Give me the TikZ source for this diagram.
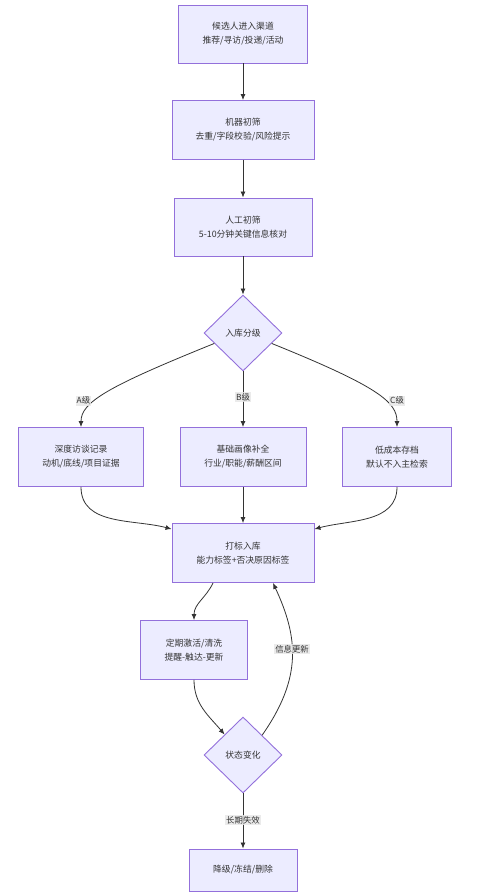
\documentclass[tikz,border=0pt]{standalone}
\usepackage{fontspec}
\setmainfont{Noto Sans CJK SC}
\usetikzlibrary{positioning}
\usetikzlibrary{arrows.meta}
\usetikzlibrary{shapes.geometric}
\definecolor{boxfill}{HTML}{ECECFF}
\definecolor{boxline}{HTML}{9370DB}
\definecolor{ink}{HTML}{333333}
\definecolor{lblbg}{HTML}{E8E8E8}

\begin{document}
\begin{tikzpicture}[x=1pt, y=-1pt,
    every node/.style={font=\fontsize{8.8pt}{14pt}\selectfont, text=ink},
    box/.style={draw=boxline, fill=boxfill, line width=0.9pt, align=center, minimum height=59pt, inner sep=0pt},
    dia/.style={draw=boxline, fill=boxfill, line width=0.9pt, diamond, minimum width=78pt, minimum height=76pt, inner sep=0pt},
    lbl/.style={fill=lblbg, fill opacity=0.85, text opacity=1, inner sep=1.2pt, font=\fontsize{8.4pt}{10pt}\selectfont},
    edge/.style={draw=ink, line width=0.8pt, -{Latex[length=6pt,width=5pt]}}]
    \useasboundingbox (0,0) rectangle (499,894);
    % main column
    \node[box, minimum width=129pt, minimum height=58pt] (entry) at (243,34) {候选人进入渠道\\推荐/寻访/投递/活动};
    \node[box, minimum width=142pt] (auto) at (243,130) {机器初筛\\去重/字段校验/风险提示};
    \node[box, minimum width=138pt, minimum height=58pt] (manual) at (243,227) {人工初筛\\5-10分钟关键信息核对};
    \node[dia] (grade) at (243,333) {入库分级};
    % three grades
    \node[box, minimum width=125pt] (gradeA) at (81,457) {深度访谈记录\\动机/底线/项目证据};
    \node[box, minimum width=126pt] (gradeB) at (243,457) {基础画像补全\\行业/职能/薪酬区间};
    \node[box, minimum width=109pt] (gradeC) at (397,457) {低成本存档\\默认不入主检索};
    \node[box, minimum width=142pt] (tag) at (243,553) {打标入库\\能力标签+否决原因标签};
    \node[box, minimum width=107pt] (refresh) at (194,650) {定期激活/清洗\\提醒-触达-更新};
    \node[dia] (state) at (243,755) {状态变化};
    \node[box, minimum width=108pt, minimum height=42pt] (retire) at (243,870) {降级/冻结/删除};

    \draw[edge] (entry) -- (auto);
    \draw[edge] (auto) -- (manual);
    \draw[edge] (manual) -- (grade);
    \draw[edge] (grade.200) to[out=202, in=90, out distance=115pt, in distance=25pt] node[lbl, pos=0.62, xshift=-12pt] {A级} (gradeA);
    \draw[edge] (grade) -- node[lbl, pos=0.46] {B级} (gradeB);
    \draw[edge] (grade.340) to[out=-22, in=90, out distance=115pt, in distance=25pt] node[lbl, pos=0.62, xshift=12pt] {C级} (gradeC);
    \draw[edge] (gradeA) to[out=-90, in=165] ([yshift=-6pt]tag.north west);
    \draw[edge] (gradeB) -- (tag);
    \draw[edge] (gradeC) to[out=-90, in=15] ([yshift=-6pt]tag.north east);
    \draw[edge] ([xshift=-30pt]tag.south) to[out=-115, in=90] (refresh);
    \draw[edge] (refresh) to[out=-90, in=130] (state.132);
    \draw[edge] (state.46) to[out=55, in=-65, out distance=70pt, in distance=60pt] node[lbl, pos=0.56] {信息更新} ([xshift=30pt]tag.south);
    \draw[edge] (state) -- node[lbl, pos=0.48] {长期失效} (retire);
\end{tikzpicture}
\end{document}
